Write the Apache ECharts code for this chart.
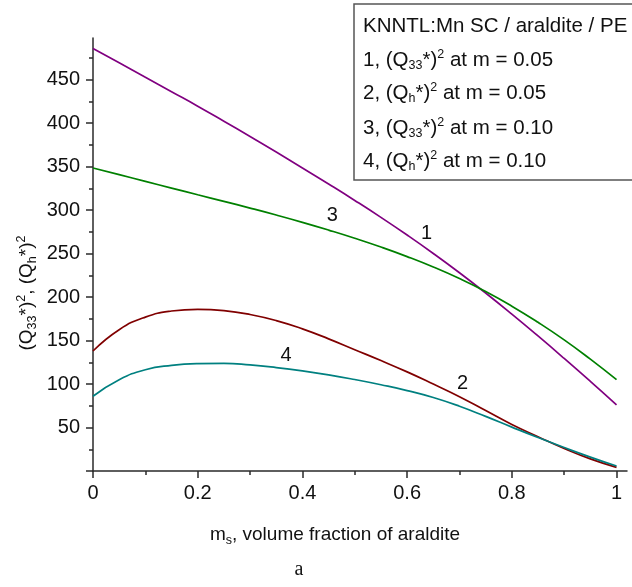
<!DOCTYPE html>
<html>
<head>
<meta charset="utf-8">
<script src="https://cdn.jsdelivr.net/npm/echarts@6/dist/echarts.min.js"></script>
<style>
  html, body { margin: 0; padding: 0; background: #fff; }
  #chart { width: 632px; height: 587px; }
</style>
</head>
<body>
<div id="chart"></div>
<script>
// Volume fraction of araldite, m_s
const volumeFraction = [0, 0.05, 0.1, 0.15, 0.2, 0.25, 0.3, 0.35, 0.4, 0.45, 0.5,
                        0.55, 0.6, 0.65, 0.7, 0.75, 0.8, 0.85, 0.9, 0.95, 1];

// 1: (Q33*)^2 at m = 0.05
const q33m005 = [486, 469.4, 452.8, 436.2, 419.6, 402.3, 384.7, 366.8, 348.6, 330.1, 311.2,
                 291.7, 271.4, 250.2, 228, 204.7, 180.4, 155.3, 129.5, 103.1, 76.1];
// 2: (Qh*)^2 at m = 0.05
const qhm005 = [138, 162.5, 177, 184, 186, 184.5, 180, 173, 163.5, 152, 139.5,
                127, 114, 100, 85.5, 69.5, 53.5, 39.5, 26, 14, 4.2];
// 3: (Q33*)^2 at m = 0.10
const q33m010 = [348.5, 340.8, 333.1, 325.4, 317.7, 310.1, 302.4, 294.4, 286, 277.1, 267.7,
                 257.6, 246.6, 234.6, 221.3, 206.4, 189.6, 171, 150.8, 128.6, 105];
// 4: (Qh*)^2 at m = 0.10
const qhm010 = [86, 105, 116.5, 121.5, 123.5, 123.8, 122, 119, 115.2, 110.6, 105.2,
                99.2, 92.5, 84.5, 74.5, 62.8, 50.5, 38.5, 27, 16, 5.7];

const xMajorTicks = [0, 0.2, 0.4, 0.6, 0.8, 1];
const xMinorTicks = [0.1, 0.3, 0.5, 0.7, 0.9];
const yMajorTicks = [0, 50, 100, 150, 200, 250, 300, 350, 400, 450];
const yMinorTicks = [25, 75, 125, 175, 225, 275, 325, 375, 425, 475];

const legendLines = [
  'KNNTL:Mn SC / araldite / PE',
  '1, (Q{sub|33}*){sup|2} at m = 0.05',
  '2, (Q{sub|h}*){sup|2} at m = 0.05',
  '3, (Q{sub|33}*){sup|2} at m = 0.10',
  '4, (Q{sub|h}*){sup|2} at m = 0.10'
];

// curve numbers placed next to each line, in data units
const curveTags = [
  { text: '1', at: [0.637, 273] },
  { text: '2', at: [0.706, 101] },
  { text: '3', at: [0.457, 294] },
  { text: '4', at: [0.369, 133] }
];

const FONT = "'Liberation Sans', Arial, sans-serif";
const INK = '#111';
const AXIS = '#2a2a2a';
const colors = ['#800080', '#800000', '#008000', '#008080'];
const seriesData = [q33m005, qhm005, q33m010, qhm010];

const richStyles = {
  sub: { fontSize: 12.5, fontFamily: FONT, fill: INK, color: INK, lineHeight: 10, verticalAlign: 'bottom' },
  sup: { fontSize: 12.5, fontFamily: FONT, fill: INK, color: INK, lineHeight: 14, verticalAlign: 'top' }
};

const chart = echarts.init(document.getElementById('chart'), null, { renderer: 'canvas' });

const xMin = 0, xMax = 1.02, yMin = 0, yMax = 498;

function makeAxis(isX, major) {
  return {
    type: 'value',
    min: isX ? xMin : yMin,
    max: isX ? xMax : yMax,
    interval: isX ? 0.1 : 25,
    position: isX ? 'bottom' : 'left',
    splitLine: { show: false },
    axisLine: { show: major, onZero: false, lineStyle: { color: AXIS, width: 1.5 } },
    axisTick: {
      show: true,
      inside: false,
      length: major ? 7 : 4,
      customValues: isX ? (major ? xMajorTicks : xMinorTicks) : (major ? yMajorTicks : yMinorTicks),
      lineStyle: { color: AXIS, width: 1.5 }
    },
    axisLabel: major ? {
      show: true,
      customValues: (isX ? xMajorTicks : yMajorTicks).slice(isX ? 0 : 1),
      margin: isX ? 12 : 13,
      fontSize: 20,
      fontFamily: FONT,
      color: INK,
      formatter: v => isX ? (v === 0 ? '0' : v === 1 ? '1' : v.toFixed(1)) : String(v)
    } : { show: false }
  };
}

const series = seriesData.map((vals, k) => ({
  type: 'line',
  xAxisIndex: 0,
  yAxisIndex: 0,
  smooth: 0.5,
  showSymbol: false,
  symbol: 'none',
  lineStyle: { color: colors[k], width: 1.7 },
  data: volumeFraction.map((x, i) => [x, vals[i]]),
  silent: true
}));

series.push({
  type: 'scatter',
  xAxisIndex: 0,
  yAxisIndex: 0,
  symbolSize: 0,
  silent: true,
  z: 5,
  data: curveTags.map(t => ({ value: t.at, name: t.text })),
  label: {
    show: true,
    position: 'inside',
    formatter: p => p.name,
    fontSize: 20,
    fontFamily: FONT,
    color: INK,
    textBorderWidth: 0,
    opacity: 1
  }
});

const graphics = [
  // legend box
  {
    type: 'rect',
    shape: { x: 354, y: 4, width: 300, height: 176 },
    style: { fill: '#fff', stroke: '#555', lineWidth: 1.5 },
    z: 10
  },
  // y axis title, reading upward
  {
    type: 'text',
    x: 27,
    y: 293,
    rotation: Math.PI / 2,
    style: {
      text: '(Q{sub|33}*){sup|2}, (Q{sub|h}*){sup|2}',
      rich: richStyles,
      font: '19px ' + FONT,
      fill: INK,
      lineHeight: 24,
      align: 'center',
      verticalAlign: 'middle'
    },
    z: 10
  },
  // x axis title
  {
    type: 'text',
    x: 335,
    y: 535,
    style: {
      text: 'm{sub|s}, volume fraction of araldite',
      rich: richStyles,
      font: '19px ' + FONT,
      fill: INK,
      lineHeight: 24,
      align: 'center',
      verticalAlign: 'middle'
    },
    z: 10
  },
  // panel letter
  {
    type: 'text',
    x: 299,
    y: 570,
    style: {
      text: 'a',
      font: "20px 'Liberation Serif', 'Times New Roman', serif",
      fill: INK,
      align: 'center',
      verticalAlign: 'middle'
    },
    z: 10
  }
];

const legendCenters = [26, 60, 93, 128, 161];
legendLines.forEach((line, i) => {
  graphics.push({
    type: 'text',
    x: 363,
    y: legendCenters[i],
    style: {
      text: line,
      rich: richStyles,
      font: '20.5px ' + FONT,
      fill: INK,
      lineHeight: 24,
      align: 'left',
      verticalAlign: 'middle'
    },
    z: 11
  });
});

chart.setOption({
  animation: false,
  backgroundColor: '#fff',
  grid: { left: 93, right: 5, top: 38, bottom: 116, containLabel: false, outerBoundsMode: 'none' },
  xAxis: [makeAxis(true, true), makeAxis(true, false)],
  yAxis: [makeAxis(false, true), makeAxis(false, false)],
  series: series,
  graphic: graphics
});
</script>
</body>
</html>
